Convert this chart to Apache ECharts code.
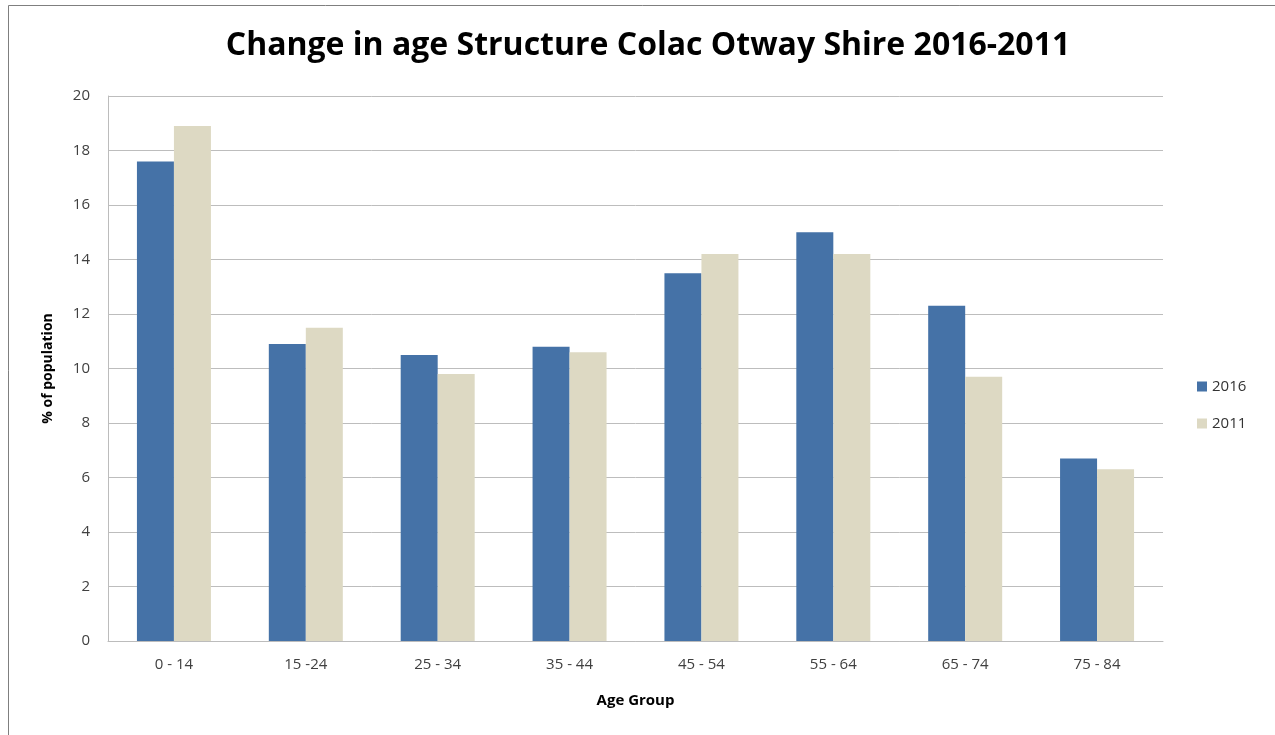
<!DOCTYPE html>
<html>
<head>
<meta charset="utf-8">
<script src="https://cdn.jsdelivr.net/npm/echarts@6/dist/echarts.min.js"></script>
<style>
  html, body { margin: 0; padding: 0; background: #fff; }
  #chart { width: 1275px; height: 735px; }
</style>
</head>
<body>
<div id="chart"></div>
<script>
// Age groups and share of population (%) for each census year
const ageGroups = ['0 - 14', '15 -24', '25 - 34', '35 - 44', '45 - 54', '55 - 64', '65 - 74', '75 - 84'];
const share2016 = [17.6, 10.9, 10.5, 10.8, 13.5, 15.0, 12.3, 6.7];
const share2011 = [18.9, 11.5, 9.8, 10.6, 14.2, 14.2, 9.7, 6.3];
const yTicks = { min: 0, max: 20, interval: 2 };

const font = '"Open Sans", "Liberation Sans", sans-serif';
const chart = echarts.init(document.getElementById('chart'));

chart.setOption({
  backgroundColor: '#fff',
  animation: false,
  graphic: [{
    type: 'rect',
    shape: { x: 8.5, y: 5.5, width: 1300, height: 760 },
    style: { fill: 'none', stroke: '#7f7f7f', lineWidth: 1 },
    silent: true
  }],
  title: {
    text: 'Change in age Structure Colac Otway Shire 2016-2011',
    left: 643,
    textAlign: 'center',
    top: 25,
    textStyle: { fontFamily: font, fontWeight: 'bold', fontSize: 32, color: '#000' }
  },
  legend: {
    orient: 'vertical',
    left: 1192,
    top: 374,
    itemWidth: 10,
    itemHeight: 10,
    itemGap: 22,
    icon: 'rect',
    textStyle: { fontFamily: font, fontSize: 15, color: '#333' },
    data: ['2016', '2011']
  },
  grid: { left: 108, right: 112, top: 96, bottom: 94 },
  xAxis: {
    type: 'category',
    data: ageGroups,
    name: 'Age Group',
    nameLocation: 'middle',
    nameGap: 52,
    nameTextStyle: { fontFamily: font, fontWeight: 'bold', fontSize: 15, color: '#000' },
    axisLine: { lineStyle: { color: '#bcbcbc', width: 1 } },
    axisTick: { show: false },
    axisLabel: { fontFamily: font, fontSize: 15, color: '#404040', margin: 16 }
  },
  yAxis: {
    type: 'value',
    min: yTicks.min,
    max: yTicks.max,
    interval: yTicks.interval,
    name: '% of population',
    nameLocation: 'middle',
    nameRotate: 90,
    nameGap: 53,
    nameTextStyle: { fontFamily: font, fontWeight: 'bold', fontSize: 14, color: '#000' },
    axisLine: { show: true, lineStyle: { color: '#bcbcbc', width: 1 } },
    axisTick: { show: false },
    axisLabel: { fontFamily: font, fontSize: 15, color: '#404040', margin: 18 },
    splitLine: { lineStyle: { color: '#bdbdbd', width: 1 } }
  },
  series: [
    {
      name: '2016',
      type: 'bar',
      data: share2016,
      barWidth: 37,
      barGap: '0%',
      itemStyle: { color: '#4572a7' }
    },
    {
      name: '2011',
      type: 'bar',
      data: share2011,
      barWidth: 37,
      barGap: '0%',
      itemStyle: { color: '#ddd9c3' }
    }
  ]
});
</script>
</body>
</html>
